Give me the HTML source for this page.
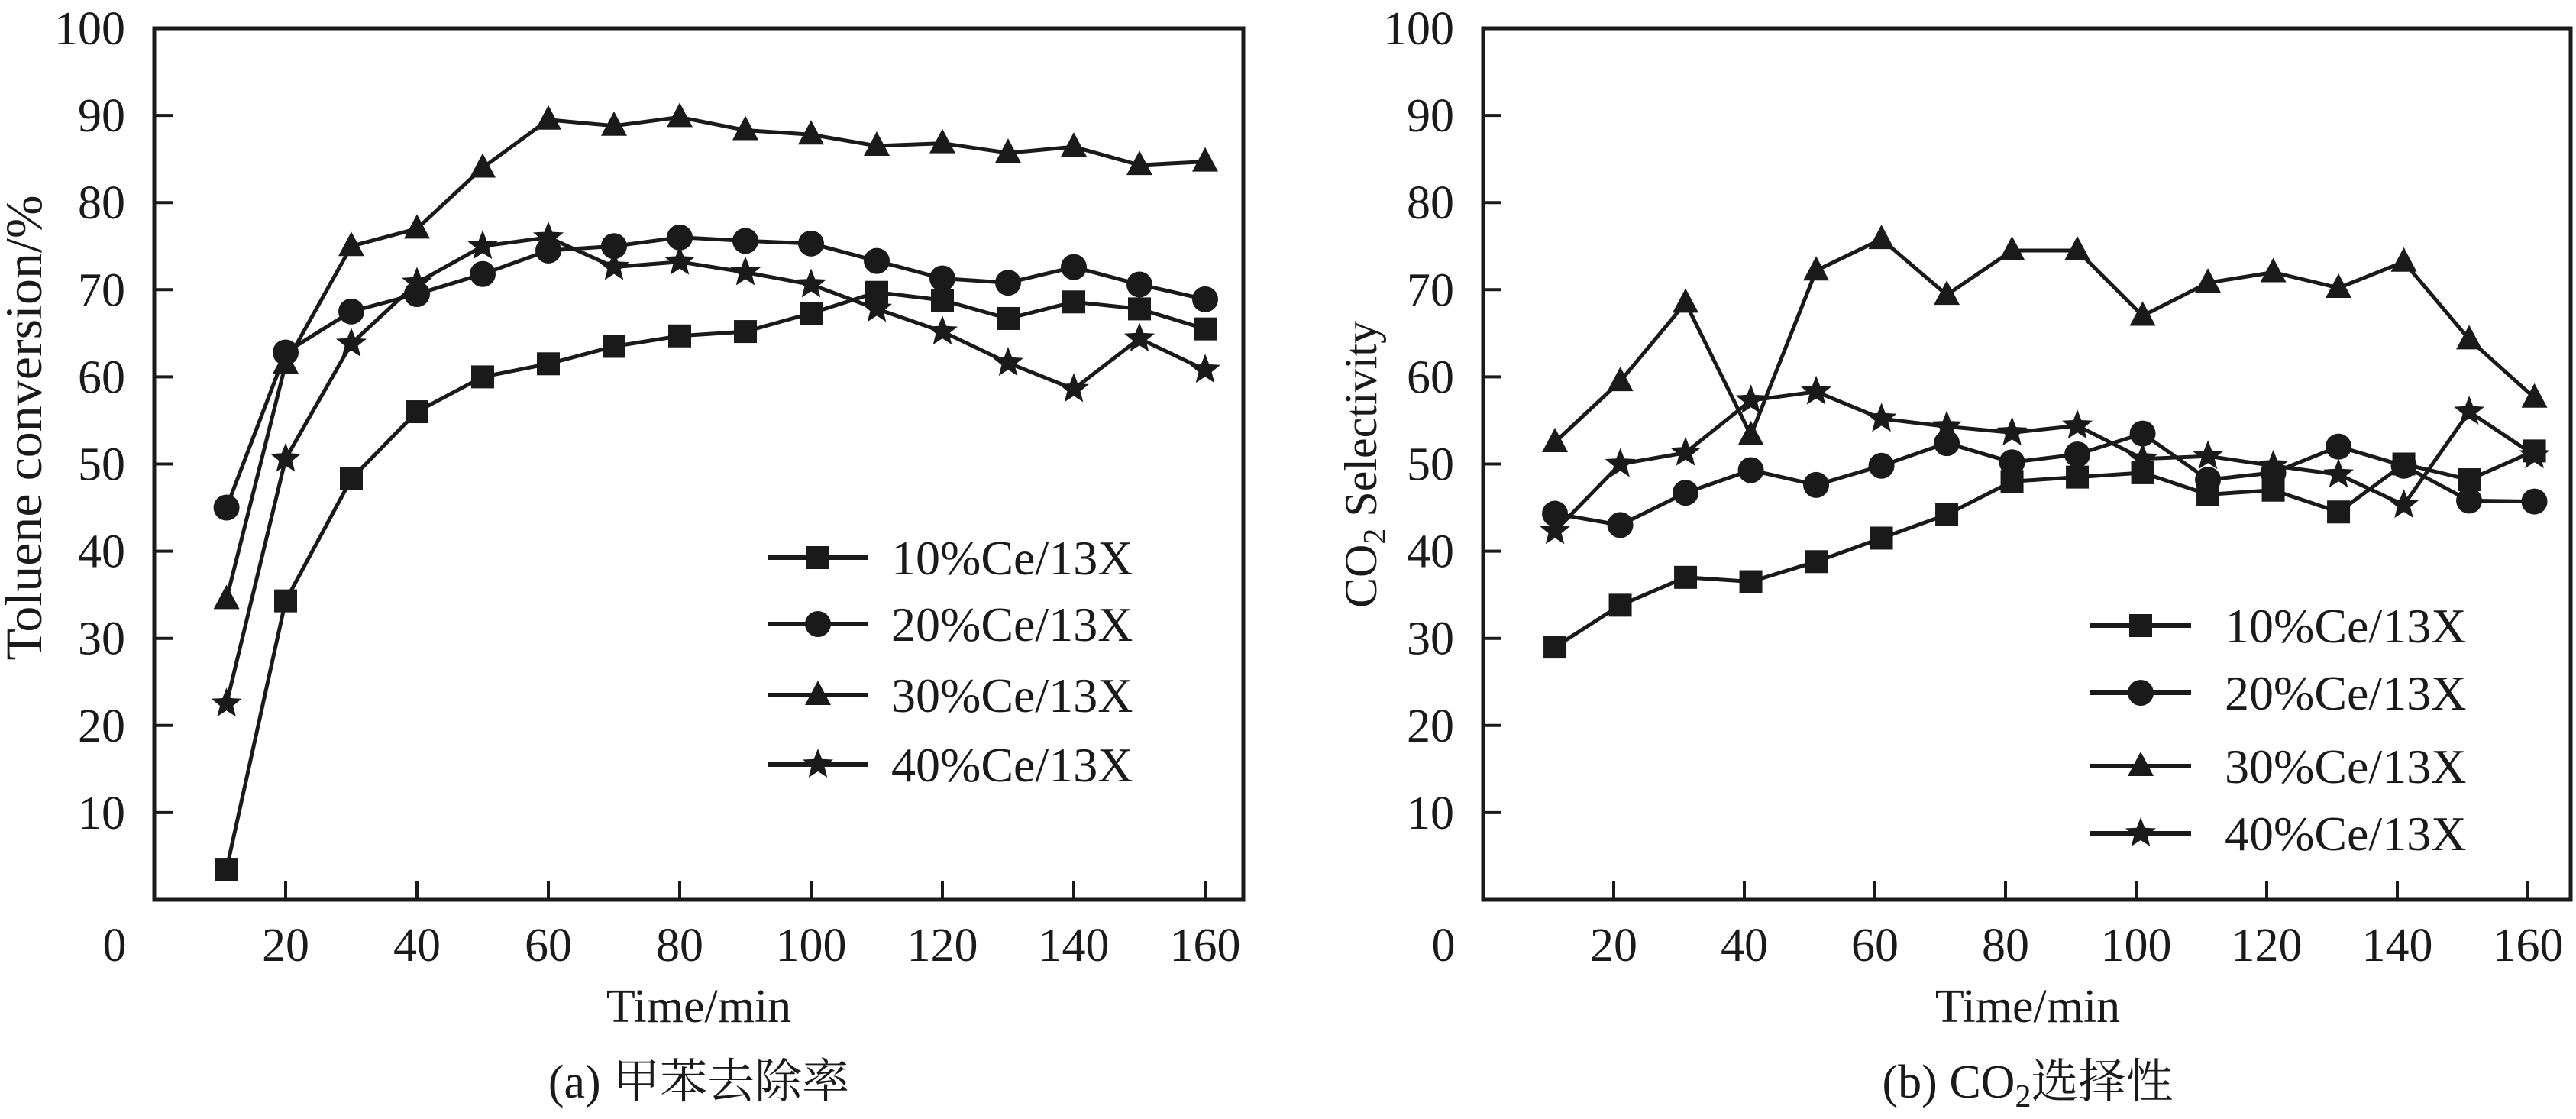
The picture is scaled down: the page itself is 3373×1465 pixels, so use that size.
<!DOCTYPE html>
<html><head><meta charset="utf-8">
<style>
html,body{margin:0;padding:0;background:#fff;}
svg{display:block;}
text{font-family:"Liberation Serif","Noto Serif CJK SC","Noto Sans CJK SC",serif;fill:#1a1a1a;}
</style></head>
<body>
<svg id="chart" width="3373" height="1465" viewBox="0 0 3373 1465" xmlns="http://www.w3.org/2000/svg"></svg>
<script>
const seriesNames = ["10%Ce/13X","20%Ce/13X","30%Ce/13X","40%Ce/13X"];
const markerTypes = ["square","circle","triangle","star"];
const xTicks = [20,40,60,80,100,120,140,160];
const yTicks = [10,20,30,40,50,60,70,80,90,100];
const timeA = [11,20,30,40,50,60,70,80,90,100,110,120,130,140,150,160];
const a10 = [3.5,34.3,48.3,56,60,61.5,63.5,64.7,65.2,67.3,69.7,68.8,66.7,68.6,67.8,65.5];
const a20 = [45,62.8,67.5,69.5,71.8,74.5,75,76,75.6,75.3,73.3,71.3,70.8,72.6,70.6,68.9];
const a30 = [34.5,61.5,75,77,84,89.5,88.8,89.8,88.3,87.8,86.5,86.8,85.7,86.4,84.3,84.7];
const a40 = [22.5,50.6,63.8,70.8,75,76,72.6,73.2,72,70.6,67.8,65.2,61.6,58.6,64.4,60.8];
const timeB = [11,21,31,41,51,61,71,81,91,101,111,121,131,141,151,161];
const b10 = [29,33.8,37,36.5,38.8,41.5,44.2,48,48.5,49,46.5,47,44.5,50,48.2,51.5];
const b20 = [44.3,43,46.7,49.3,47.6,49.8,52.4,50.2,51.1,53.5,48.2,49,52,49.8,45.8,45.7];
const b30 = [52.5,59.5,68.5,53.3,72.2,75.8,69.4,74.5,74.5,67,70.8,72,70.2,73.2,64.3,57.6];
const b40 = [42.3,50,51.3,57.3,58.3,55.2,54.3,53.6,54.4,50.6,50.9,49.8,48.8,45.3,56,51];

const NS="http://www.w3.org/2000/svg";
const svg=document.getElementById('chart');
function mk(tag,attrs,parent){const e=document.createElementNS(NS,tag);for(const k in attrs)e.setAttribute(k,attrs[k]);(parent||svg).appendChild(e);return e;}

function marker(g,type,cx,cy){
  let e;
  if(type==="square"){e=mk('rect',{x:cx-15,y:cy-15,width:30,height:30,fill:'#1a1a1a'},g);}
  else if(type==="circle"){e=mk('circle',{cx:cx,cy:cy,r:17,fill:'#1a1a1a'},g);}
  else if(type==="triangle"){e=mk('polygon',{points:`${cx},${cy-19} ${cx+17},${cy+13} ${cx-17},${cy+13}`,fill:'#1a1a1a'},g);}
  else {let p=[];for(let i=0;i<10;i++){const r=i%2?9:21;const a=-Math.PI/2+i*Math.PI/5;p.push((cx+r*Math.cos(a)).toFixed(1)+','+(cy+r*Math.sin(a)).toFixed(1));}
    e=mk('polygon',{points:p.join(' '),fill:'#1a1a1a'},g);}
  return e;
}

function panel(cfg){
  const g=mk('g',{});
  
  
  const X=v=>cfg.x0+(v/20)*cfg.per20;
  const Y=v=>cfg.y0-(v/10)*cfg.per10;
  const frame=mk('rect',{x:cfg.left,y:cfg.top,width:cfg.right-cfg.left,height:cfg.y0-cfg.top,fill:'none',stroke:'#1a1a1a','stroke-width':5},g);
  
  
  xTicks.forEach(t=>{
    const l=mk('line',{x1:X(t),x2:X(t),y1:cfg.y0,y2:cfg.y0-24,stroke:'#1a1a1a','stroke-width':4},g);
    
    
    const tx=mk('text',{x:X(t),y:1258,'font-size':62,'text-anchor':'middle'},g);tx.textContent=t;
    
    
  });
  const z=mk('text',{x:cfg.left-52,y:1258,'font-size':62,'text-anchor':'middle'},g);z.textContent='0';
  
  
  yTicks.forEach(t=>{
    if(t<100){const l=mk('line',{x1:cfg.left,x2:cfg.left+24,y1:Y(t),y2:Y(t),stroke:'#1a1a1a','stroke-width':4},g);
    
    }
    const tx=mk('text',{x:cfg.left-38,y:Y(t)+21,'font-size':62,'text-anchor':'end'},g);tx.textContent=t;
    
    
  });
  const xt=mk('text',{x:cfg.cx,y:1338,'font-size':62,'text-anchor':'middle'},g);xt.textContent='Time/min';
  
  
  const yt=mk('text',{x:0,y:0,'font-size':cfg.ytfs,'text-anchor':'middle',transform:`translate(${cfg.ytx},${cfg.yty}) rotate(-90)`},g);
  yt.innerHTML=cfg.ytitle;
  
  
  const cap=mk('text',{x:cfg.cx,y:1437,'font-size':62,'text-anchor':'middle'},g);cap.innerHTML=cfg.caption;
  
  
  cfg.series.forEach((vals,i)=>{
    const sg=mk('g',{},g);
    
    
    const pts=vals.map((v,j)=>X(cfg.times[j]).toFixed(1)+','+Y(v).toFixed(1)).join(' ');
    const pl=mk('polyline',{points:pts,fill:'none',stroke:'#1a1a1a','stroke-width':5,'stroke-linejoin':'round'},sg);
    
    
    vals.forEach((v,j)=>{const m=marker(sg,markerTypes[i],X(cfg.times[j]),Y(v));
      
      });
    const ly=cfg.legY[i];
    const lg=mk('g',{},g);
    
    
    mk('line',{x1:cfg.legX,x2:cfg.legX+132,y1:ly,y2:ly,stroke:'#1a1a1a','stroke-width':6},lg);
    marker(lg,markerTypes[i],cfg.legX+66,ly);
    const lt=mk('text',{x:cfg.legX+cfg.legTextOff,y:ly+22,'font-size':64},lg);lt.textContent=seriesNames[i];
  });
}

panel({name:'panel-a-toluene-conversion',left:202,right:1628,top:37,y0:1178,x0:202,per20:172,per10:114.1,
  cx:915,ytx:54,yty:560,ytfs:68,ytitle:'Toluene conversion/%',caption:'(a) 甲苯去除率',
  times:timeA,series:[a10,a20,a30,a40],legX:1005,legTextOff:162,legY:[730,817,910,1001]});
panel({name:'panel-b-co2-selectivity',left:1942,right:3366,top:37,y0:1178,x0:1942,per20:171,per10:114.1,
  cx:2655,ytx:1802,yty:608,ytfs:60,ytitle:'CO<tspan font-size="42" dy="12">2</tspan><tspan dy="-12"> Selectivity</tspan>',
  caption:'(b) CO<tspan font-size="42" dy="12">2</tspan><tspan dy="-12">选择性</tspan>',
  times:timeB,series:[b10,b20,b30,b40],legX:2737,legTextOff:176,legY:[819,907,1003,1091]});
</script>
</body></html>
